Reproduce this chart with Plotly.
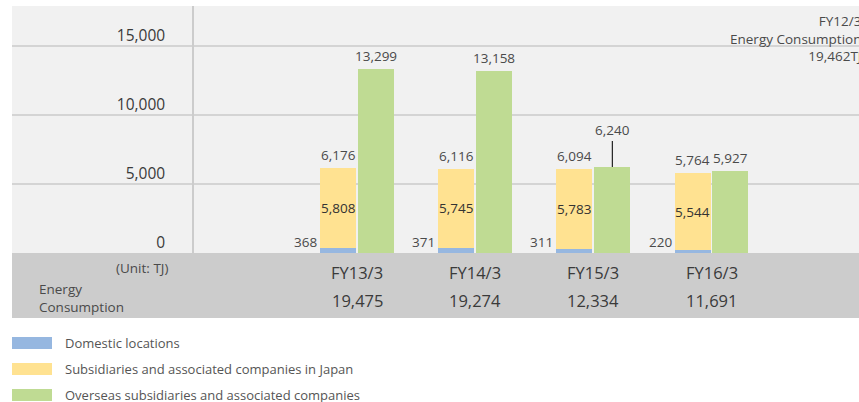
import plotly.graph_objects as go

# ---------------- data ----------------
categories = ["FY13/3", "FY14/3", "FY15/3", "FY16/3"]
domestic = [368, 371, 311, 220]
subsidiaries_japan = [5808, 5745, 5783, 5544]
overseas = [13299, 13158, 6240, 5927]
series_names = ["Domestic locations",
                "Subsidiaries and associated companies in Japan",
                "Overseas subsidiaries and associated companies"]
y_tick_values = [0, 5000, 10000, 15000]
unit_label = "(Unit: TJ)"
row_label = "Energy<br>Consumption"
fy12_note = "FY12/3<br>Energy Consumption<br>19,462TJ"

# ---------------- derived ----------------
japan_total = [d + s for d, s in zip(domestic, subsidiaries_japan)]
energy_total = [j + o for j, o in zip(japan_total, overseas)]
xs = list(range(len(categories)))

# ---------------- style ----------------
W, H = 859, 402
C_BLUE = "#96b7e0"
C_YEL = "#ffe291"
C_GRN = "#bfdb93"
BG = "#f1f1f1"
BAND = "#cccccc"
TXT = "#4a4a4a"
FONT = "Open Sans"


def px(x):
    return x / W


def py(y):
    return 1 - y / H


BAR_W = 0.305
OFF_Y = -0.313
OFF_G = 0.008
cy = OFF_Y + BAR_W / 2
cg = OFF_G + BAR_W / 2

fig = go.Figure()
fig.add_trace(go.Bar(x=xs, y=domestic, base=0, offset=OFF_Y, width=BAR_W,
                     marker=dict(color=C_BLUE, line=dict(width=0)), name=series_names[0]))
fig.add_trace(go.Bar(x=xs, y=subsidiaries_japan, base=domestic, offset=OFF_Y, width=BAR_W,
                     marker=dict(color=C_YEL, line=dict(width=0)), name=series_names[1]))
fig.add_trace(go.Bar(x=xs, y=overseas, base=0, offset=OFF_G, width=BAR_W,
                     marker=dict(color=C_GRN, line=dict(width=0)), name=series_names[2]))

ann = []
shapes = []

# background panel and bottom band
shapes.append(dict(type="rect", xref="paper", yref="paper", x0=px(12), x1=1, y0=py(253), y1=py(6),
                   fillcolor=BG, line=dict(width=0), layer="below"))
shapes.append(dict(type="rect", xref="paper", yref="paper", x0=px(12), x1=1, y0=py(318), y1=py(253),
                   fillcolor=BAND, line=dict(width=0), layer="below"))

lab_font = dict(family=FONT, size=13.5, color=TXT)
for i in xs:
    # domestic label at left of the stack bottom
    ann.append(dict(x=i + OFF_Y, y=0, xref="x", yref="y", text=f"{domestic[i]:,}",
                    xanchor="right", yanchor="bottom", yshift=0, xshift=-1,
                    showarrow=False, font=lab_font))
    # yellow inner label
    ann.append(dict(x=i + cy, y=domestic[i] + subsidiaries_japan[i] / 2, xref="x", yref="y",
                    text=f"{subsidiaries_japan[i]:,}", xanchor="center", yanchor="middle",
                    showarrow=False, font=dict(family=FONT, size=13.5, color="#333333")))
    # japan total label
    ann.append(dict(x=i + cy, y=japan_total[i], xref="x", yref="y", text=f"{japan_total[i]:,}",
                    xanchor="center", yanchor="bottom", yshift=2, showarrow=False, font=lab_font))
    # overseas label
    if i == 2:
        ann.append(dict(x=i + cg, y=overseas[i], xref="x", yref="y", text=f"{overseas[i]:,}",
                        showarrow=True, arrowhead=0, arrowwidth=1.2, arrowcolor="#222222",
                        ax=0, ay=-26, yanchor="bottom", standoff=0, font=lab_font))
    else:
        ann.append(dict(x=i + cg, y=overseas[i], xref="x", yref="y", text=f"{overseas[i]:,}",
                        xanchor="center", yanchor="bottom", yshift=2, showarrow=False, font=lab_font))
    # category label and energy total in band
    ann.append(dict(x=i, y=py(272), xref="x", yref="paper", text=categories[i],
                    xanchor="center", yanchor="middle", showarrow=False,
                    font=dict(family=FONT, size=16.5, color="#3a3a3a")))
    ann.append(dict(x=i, y=py(300), xref="x", yref="paper", text=f"{energy_total[i]:,}",
                    xanchor="center", yanchor="middle", showarrow=False,
                    font=dict(family=FONT, size=16.5, color="#3a3a3a")))

ann.append(dict(x=px(170), y=py(268), xref="paper", yref="paper", text=unit_label,
                xanchor="right", yanchor="middle", showarrow=False, font=lab_font))
ann.append(dict(x=px(37), y=py(298), xref="paper", yref="paper", text=row_label, align="left",
                xanchor="left", yanchor="middle", showarrow=False, font=lab_font))
ann.append(dict(x=px(863), y=py(39), xref="paper", yref="paper", text=fy12_note, align="right",
                xanchor="right", yanchor="middle", showarrow=False, font=lab_font))

# legend
leg_colors = [C_BLUE, C_YEL, C_GRN]
leg_y = [343, 369, 395]
for name, col, yy in zip(series_names, leg_colors, leg_y):
    shapes.append(dict(type="rect", xref="paper", yref="paper", x0=px(12), x1=px(52),
                       y0=py(yy + 6), y1=py(yy - 6), fillcolor=col, line=dict(width=0)))
    ann.append(dict(x=px(63), y=py(yy), xref="paper", yref="paper", text=name,
                    xanchor="left", yanchor="middle", showarrow=False,
                    font=dict(family=FONT, size=13, color="#555555")))

fig.update_layout(
    width=W, height=H,
    margin=dict(l=0, r=0, t=0, b=0),
    paper_bgcolor="white", plot_bgcolor="rgba(0,0,0,0)",
    barmode="overlay", bargap=0, showlegend=False,
    font=dict(family=FONT, color=TXT),
    xaxis=dict(domain=[px(12), 1], range=[(12 - 357.2) / 118.1, (859 - 357.2) / 118.1],
               showgrid=False, zeroline=False, showticklabels=False, showline=False, fixedrange=True),
    yaxis=dict(domain=[py(253), py(6)], range=[0, 247 / 69 * 5000], anchor="free", position=px(193),
               tickvals=y_tick_values, tickformat=",d", showgrid=True, gridcolor="#d4d4d4", gridwidth=1.5,
               zeroline=False, showline=True, linecolor="#cccccc", linewidth=1.5, ticks="",
               ticklabelstandoff=24, ticklabelshift=-10, fixedrange=True,
               tickfont=dict(family=FONT, size=15.5, color="#3a3a3a")),
    annotations=ann, shapes=shapes,
)

fig.write_html("out.html", config={"displayModeBar": False},
               post_script="document.body.style.margin='0';document.body.style.overflow='hidden';")
